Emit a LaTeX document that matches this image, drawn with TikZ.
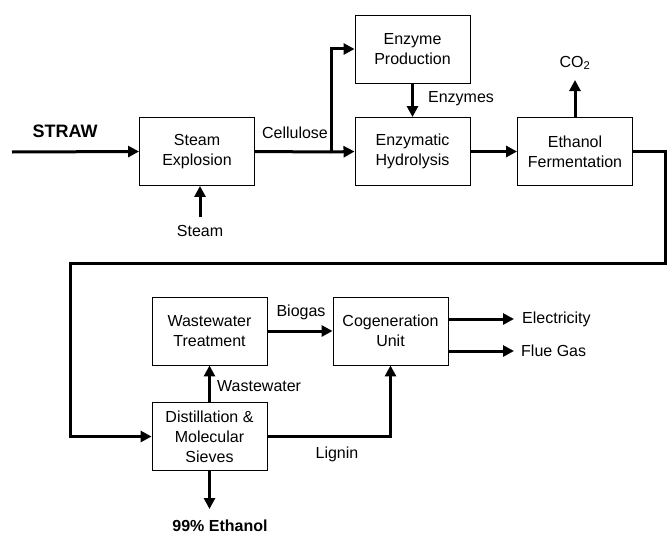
\documentclass[tikz,border=0pt]{standalone}
\usepackage{fontspec}
\setmainfont{Liberation Sans}
\usetikzlibrary{arrows.meta,positioning}

\begin{document}
\begin{tikzpicture}[x=1pt,y=-1pt,
    unit/.style={draw, line width=0.9pt, minimum width=115pt, minimum height=68pt,
      align=center, inner sep=2pt, font=\fontsize{16}{20}\selectfont},
    stream/.style={line width=3pt, -{Triangle[length=11pt,width=11pt]}},
    pipe/.style={line width=3pt},
    tag/.style={inner sep=0pt, font=\fontsize{16}{20}\selectfont},
    bigtag/.style={inner sep=0pt, font=\fontsize{18}{22}\selectfont\bfseries}]
  \useasboundingbox (0,0) rectangle (668,535);
  % process units, upper line
  \node[unit] (explosion) at (197,151.5) {Steam\\Explosion};
  \node[unit] (enzprod) at (412.5,49) {Enzyme\\Production};
  \node[unit] (hydrolysis) at (412.5,151.5) {Enzymatic\\Hydrolysis};
  \node[unit] (fermentation) at (575,151.5) {Ethanol\\Fermentation};
  % process units, lower line
  \node[unit] (wastewater) at (209.5,331) {Wastewater\\Treatment};
  \node[unit] (cogen) at (390.5,331) {Cogeneration\\Unit};
  \node[unit] (distill) at (209.5,436.5) {Distillation \&\\Molecular\\Sieves};
  % stream labels
  \node[bigtag] (straw) at (65,131) {STRAW};
  \node[tag] (cellulose) at (295,133) {Cellulose};
  \node[tag] (steam) at (200,231) {Steam};
  \node[tag] (enzymes) at (461,99) {Enzymes};
  \node[tag] (co2) at (575,63) {CO\textsubscript{2}};
  \node[tag] (biogas) at (301,312) {Biogas};
  \node[tag, anchor=west] (electricity) at (522,319) {Electricity};
  \node[tag, anchor=west] (fluegas) at (521,351) {Flue Gas};
  \node[tag, anchor=west] (wwlabel) at (217,386) {Wastewater};
  \node[tag] (lignin) at (337,454) {Lignin};
  \node[tag, font=\fontsize{16}{20}\selectfont\bfseries] (ethanol) at (220,526) {99\% Ethanol};
  % free ends and bends
  \coordinate (strawin) at (12,152);
  \coordinate (steamin) at (200,217);
  \coordinate (split) at (331,152);
  \coordinate (co2out) at (575,80);
  \coordinate (rightturn) at (665,263);
  \coordinate (leftturn) at (70,263);
  \coordinate (ethout) at (209.5,509);
  \coordinate (elecout) at (514,319);
  \coordinate (flueout) at (514,351);
  % upper streams
  \draw[stream] (strawin) -- (explosion.west);
  \draw[stream] (steamin) -- (steamin |- explosion.south);
  \draw[pipe] (explosion.east) -- (split);
  \draw[stream] (split) -- (hydrolysis.west);
  \draw[stream] (split) |- (enzprod.west);
  \draw[stream] (enzprod) -- (hydrolysis);
  \draw[stream] (hydrolysis) -- (fermentation);
  \draw[stream] (fermentation.north) -- (co2out);
  % beer to distillation
  \draw[stream] (fermentation.east) -| (rightturn) -- (leftturn) |- (distill.west);
  % lower streams
  \draw[stream] (distill) -- (wastewater);
  \draw[stream] (distill.south) -- (ethout);
  \draw[stream] (distill.east) -| (cogen.south);
  \draw[stream] (wastewater) -- (cogen);
  \draw[stream] (cogen.east |- elecout) -- (elecout);
  \draw[stream] (cogen.east |- flueout) -- (flueout);
\end{tikzpicture}
\end{document}
